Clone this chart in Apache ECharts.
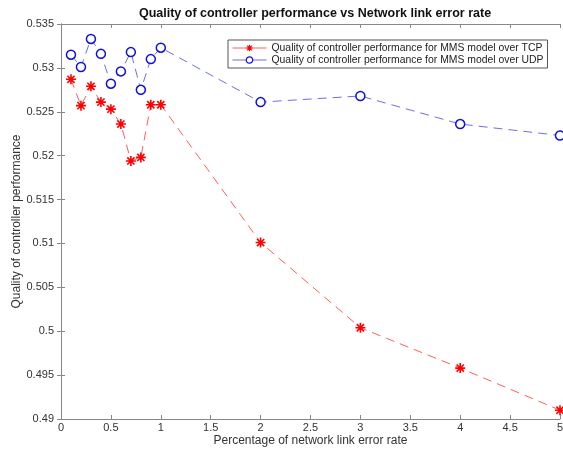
<!DOCTYPE html>
<html><head><meta charset="utf-8">
<script src="https://cdn.jsdelivr.net/npm/echarts@6/dist/echarts.min.js"></script>
<style>html,body{margin:0;padding:0;background:#fff}#c{width:563px;height:451px}</style>
</head><body><div id="c"></div>
<script>
const errorRates = [0.1,0.2,0.3,0.4,0.5,0.6,0.7,0.8,0.9,1,2,3,4,5];
const tcpQuality = [0.5287,0.5257,0.5279,0.5261,0.5253,0.5236,0.5194,0.5198,0.5258,0.5258,0.5101,0.5004,0.4958,0.4910];
const udpQuality = [0.5315,0.5301,0.5333,0.5316,0.5282,0.5296,0.5318,0.5275,0.5310,0.5323,0.5261,0.5268,0.5236,0.5223];
const tcpName = 'Quality of controller performance for MMS model over TCP';
const udpName = 'Quality of controller performance for MMS model over UDP';

const font = 'Liberation Sans, Arial, sans-serif';
const asterisk = 'path://M0,-5L0,5M-5,0L5,0M-3.6,-3.6L3.6,3.6M-3.6,3.6L3.6,-3.6';
const axisLine = {show:true, lineStyle:{color:'#888', width:1}};
const ticks = {show:true, inside:true, length:4, lineStyle:{color:'#888'}};
const fmt3 = v => String(parseFloat(v.toFixed(3)));

const chart = echarts.init(document.getElementById('c'), null, {renderer:'canvas'});
chart.setOption({
  animation:false,
  backgroundColor:'#fff',
  title:{text:'Quality of controller performance vs Network link error rate', left:310, textAlign:'center', top:2,
    textStyle:{fontFamily:font, fontSize:12.5, fontWeight:'bold', color:'#111'}},
  grid:{left:61, right:3, top:24, bottom:32, containLabel:false, outerBoundsMode:'none'},
  legend:{
    orient:'vertical', left:228, top:40, padding:[3,4,3,4], itemGap:2,
    borderColor:'#555', borderWidth:1, backgroundColor:'#fff',
    itemWidth:34, itemHeight:8,
    textStyle:{fontFamily:font, fontSize:10.4, color:'#222'},
    lineStyle:{type:'solid', width:1},
    itemStyle:{borderWidth:1.2},
    data:[tcpName, udpName]
  },
  xAxis:[{
    type:'value', min:0, max:5, interval:0.5,
    name:'Percentage of network link error rate', nameLocation:'middle', nameGap:16, nameMoveOverlap:false,
    nameTextStyle:{fontFamily:font, fontSize:12, color:'#333'},
    axisLine, axisTick:ticks, splitLine:{show:false},
    axisLabel:{fontFamily:font, fontSize:11, color:'#333', margin:3, formatter:v=>fmt3(v)}
  },{
    type:'value', min:0, max:5, interval:0.5, position:'top',
    axisLine, axisTick:ticks, splitLine:{show:false}, axisLabel:{show:false}
  }],
  yAxis:[{
    type:'value', min:0.49, max:0.535, interval:0.005,
    name:'Quality of controller performance', nameLocation:'middle', nameGap:38, nameRotate:90, nameMoveOverlap:false,
    nameTextStyle:{fontFamily:font, fontSize:12, color:'#333'},
    axisLine, axisTick:ticks, splitLine:{show:false},
    axisLabel:{fontFamily:font, fontSize:11, color:'#333', margin:7, formatter:v=>fmt3(v)}
  },{
    type:'value', min:0.49, max:0.535, interval:0.005, position:'right',
    axisLine, axisTick:ticks, splitLine:{show:false}, axisLabel:{show:false}
  }],
  series:[{
    name:tcpName, type:'line',
    data:errorRates.map((x,i)=>[x,tcpQuality[i]]),
    symbol:asterisk, symbolSize:10, symbolKeepAspect:true,
    itemStyle:{color:'#ff0000', borderColor:'#ff0000', borderWidth:1.6},
    lineStyle:{color:'rgba(255,40,40,0.75)', width:1, type:[9,6]},
    clip:false
  },{
    name:udpName, type:'line',
    data:errorRates.map((x,i)=>[x,udpQuality[i]]),
    symbol:'circle', symbolSize:9,
    itemStyle:{color:'#fff', borderColor:'#1010e0', borderWidth:1.5},
    lineStyle:{color:'rgba(60,60,230,0.75)', width:1, type:[9,6]},
    clip:false
  }]
});
</script></body></html>
